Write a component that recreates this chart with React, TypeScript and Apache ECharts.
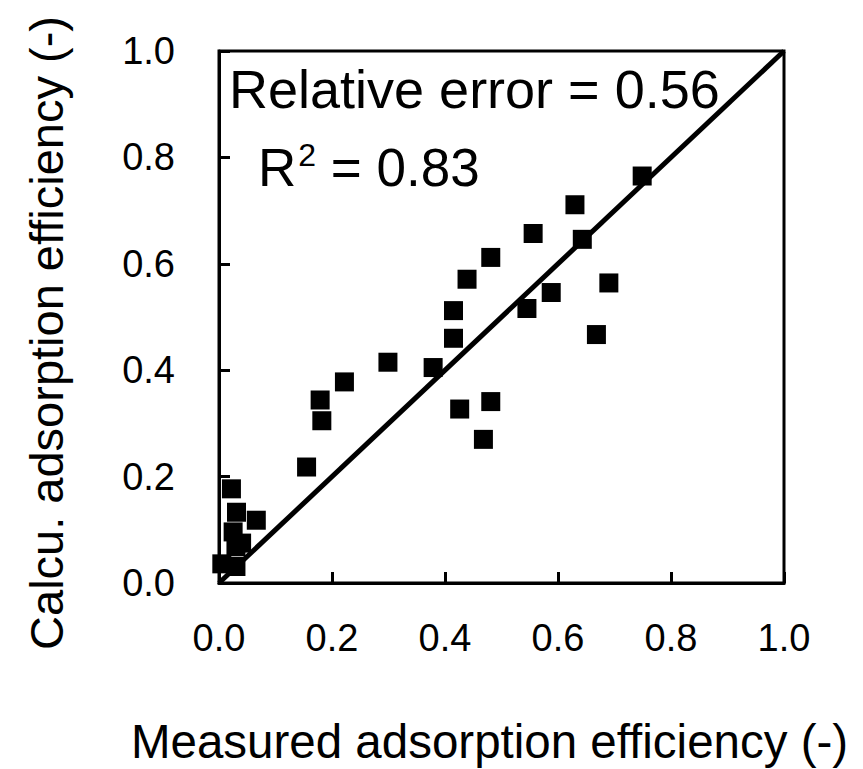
import React, { useEffect, useRef } from "react";
import * as echarts from "echarts";

const measured: number[] = [
  0.63, 0.556, 0.643, 0.481, 0.439, 0.69, 0.588, 0.415, 0.545, 0.415, 0.668,
  0.379, 0.426, 0.481, 0.468, 0.749, 0.299, 0.222, 0.179, 0.182, 0.155,
  0.022, 0.031, 0.066, 0.025, 0.03, 0.04, 0.005, 0.03,
];
const calculated: number[] = [
  0.711, 0.657, 0.646, 0.612, 0.571, 0.564, 0.546, 0.512, 0.516, 0.46, 0.467,
  0.405, 0.327, 0.341, 0.27, 0.765, 0.415, 0.378, 0.344, 0.305, 0.218,
  0.177, 0.133, 0.118, 0.096, 0.068, 0.075, 0.036, 0.031,
];
const identityLine: number[][] = [
  [0, 0],
  [1, 1],
];
const xTitle = "Measured adsorption efficiency (-)";
const yTitle = "Calcu. adsorption efficiency (-)";
const relErrorText = "Relative error = 0.56";
const r2Value = "0.83";

const FONT = "'Liberation Sans', Arial, Helvetica, sans-serif";

export default function App() {
  const ref = useRef<HTMLDivElement>(null);
  useEffect(() => {
    if (!ref.current) return;
    const chart = echarts.init(ref.current, undefined, { renderer: "svg" });
    const points = measured.map((m, i) => [m, calculated[i]]);
    chart.setOption({
      animation: false,
      backgroundColor: "#ffffff",
      textStyle: { fontFamily: FONT },
      grid: {
        left: 219,
        right: 79,
        top: 51,
        bottom: 186,
        containLabel: false,
        outerBoundsMode: "none",
        show: true,
        borderColor: "#000",
        borderWidth: 3,
        backgroundColor: "transparent",
      },
      xAxis: {
        type: "value",
        min: 0,
        max: 1,
        interval: 0.2,
        name: xTitle,
        nameLocation: "middle",
        nameGap: 134,
        nameTextStyle: { fontSize: 47.5, color: "#000", fontFamily: FONT, padding: [0, 24, 0, 0] },
        axisLine: { show: true, lineStyle: { color: "#000", width: 3 } },
        axisTick: { show: true, inside: true, length: 11, lineStyle: { color: "#000", width: 3 } },
        axisLabel: {
          fontSize: 38,
          color: "#000",
          fontFamily: FONT,
          margin: 36,
          formatter: (v: number) => v.toFixed(1),
        },
        splitLine: { show: false },
      },
      yAxis: {
        type: "value",
        min: 0,
        max: 1,
        interval: 0.2,
        name: yTitle,
        nameLocation: "middle",
        nameGap: 149,
        nameTextStyle: { fontSize: 47, color: "#000", fontFamily: FONT, padding: [0, 32, 0, 0] },
        axisLine: { show: true, lineStyle: { color: "#000", width: 3 } },
        axisTick: { show: true, inside: true, length: 11, lineStyle: { color: "#000", width: 3 } },
        axisLabel: {
          fontSize: 38,
          color: "#000",
          fontFamily: FONT,
          margin: 44,
          formatter: (v: number) => v.toFixed(1),
        },
        splitLine: { show: false },
      },
      graphic: [
        {
          type: "text",
          left: 229,
          top: 62,
          style: { text: relErrorText, font: `54px ${FONT}`, fill: "#000" },
        },
        {
          type: "text",
          left: 258,
          top: 139,
          style: {
            text: `{b|R}{s|2}{b| = ${r2Value}}`,
            rich: {
              b: { fontSize: 53, fontFamily: FONT, fill: "#000", color: "#000" },
              s: { fontSize: 32, fontFamily: FONT, fill: "#000", color: "#000", verticalAlign: "top", padding: [0, 0, 24, 2] },
            },
          },
        },
      ],
      series: [
        {
          type: "line",
          data: identityLine,
          showSymbol: false,
          symbol: "none",
          lineStyle: { color: "#000", width: 5 },
          z: 2,
        },
        {
          type: "scatter",
          data: points,
          symbol: "rect",
          symbolSize: 19,
          itemStyle: { color: "#000", opacity: 1 },
          z: 3,
        },
      ],
    });
    return () => chart.dispose();
  }, []);
  return (
    <div
      ref={ref}
      style={{ position: "absolute", left: 0, top: 0, width: 863, height: 769 }}
    />
  );
}
